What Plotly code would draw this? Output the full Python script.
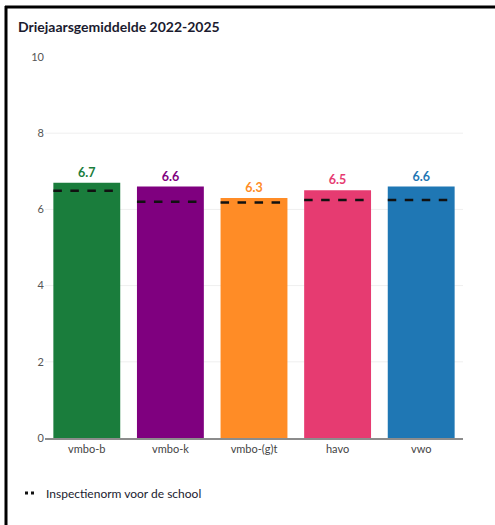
import plotly.graph_objects as go

# Driejaarsgemiddelde per schoolsoort, met de inspectienorm per onderdeel
categories = ["vmbo-b", "vmbo-k", "vmbo-(g)t", "havo", "vwo"]
scores = [6.7, 6.6, 6.3, 6.5, 6.6]
norms = [6.49, 6.20, 6.18, 6.25, 6.25]
colors = ["#1a7d3c", "#7f007f", "#ff8c26", "#e63b71", "#1f77b4"]
score_labels = ["6.7", "6.6", "6.3", "6.5", "6.6"]
y_ticks = [0, 2, 4, 6, 8, 10]
grid_levels = [2, 4, 6, 8]

title_text = "Driejaarsgemiddelde 2022-2025"
norm_name = "Inspectienorm voor de school"

W, H = 495, 525
ML, MR, MT, MB = 45, 32, 57, 87
FONT = "Lato, Open Sans, sans-serif"

BAR_WIDTH = 0.8
idx = list(range(len(categories)))


def px_to_paper_x(px):
    return (px - ML) / (W - ML - MR)


def px_to_paper_y(py):
    return (H - MB - py) / (H - MT - MB)


fig = go.Figure()

fig.add_trace(go.Bar(
    x=idx,
    y=scores,
    width=BAR_WIDTH,
    marker=dict(color=colors, line=dict(width=0)),
    text=score_labels,
    textposition="outside",
    textfont=dict(family=FONT, size=12.5, color=colors, weight="bold"),
    cliponaxis=False,
    showlegend=False,
    hoverinfo="x+y",
))

# Norm lines: one dashed segment across each bar
norm_x, norm_y = [], []
for i, n in zip(idx, norms):
    norm_x += [i - BAR_WIDTH / 2, i + BAR_WIDTH / 2, None]
    norm_y += [n, n, None]

fig.add_trace(go.Scatter(
    x=norm_x,
    y=norm_y,
    mode="lines",
    line=dict(color="#111111", width=2.5, dash="8.5px,8.5px"),
    name=norm_name,
    legendgroup="norm",
    showlegend=False,
    hoverinfo="skip",
))

# Legend entry for the norm, drawn as two small dots
fig.add_trace(go.Scatter(
    x=[None],
    y=[None],
    mode="lines",
    line=dict(color="#111111", width=3, dash="0px,14px,3px,3px,3px,40px"),
    name=norm_name,
    legendgroup="norm",
    showlegend=True,
))

shapes = []
for g in grid_levels:
    shapes.append(dict(
        type="line", xref="paper", yref="y", x0=0, x1=1, y0=g, y1=g,
        line=dict(color="#efefef", width=1), layer="below",
    ))

# Frame on the left and top edge of the card
shapes.append(dict(
    type="line", xref="paper", yref="paper",
    x0=px_to_paper_x(6), x1=px_to_paper_x(6),
    y0=px_to_paper_y(6), y1=px_to_paper_y(530),
    line=dict(color="#000000", width=3),
))
shapes.append(dict(
    type="line", xref="paper", yref="paper",
    x0=px_to_paper_x(5), x1=px_to_paper_x(500),
    y0=px_to_paper_y(7), y1=px_to_paper_y(7),
    line=dict(color="#000000", width=3),
))

fig.update_layout(
    width=W,
    height=H,
    margin=dict(l=ML, r=MR, t=MT, b=MB, autoexpand=False),
    paper_bgcolor="white",
    plot_bgcolor="white",
    font=dict(family=FONT, size=11, color="#444444"),
    title=dict(
        text=title_text,
        x=18 / W, xref="container", xanchor="left",
        y=1 - 27 / H, yref="container", yanchor="middle",
        font=dict(family=FONT, size=14, color="#1b1b2f", weight="bold"),
    ),
    xaxis=dict(
        range=[-0.5, len(categories) - 0.5],
        tickvals=idx,
        ticktext=categories,
        showgrid=False,
        zeroline=False,
        showline=True,
        linecolor="#8c8c8c",
        linewidth=1.5,
        ticks="",
        tickfont=dict(family=FONT, size=11, color="#444444"),
        automargin=False,
        fixedrange=True,
    ),
    yaxis=dict(
        range=[0, 10],
        tickvals=y_ticks,
        showgrid=False,
        zeroline=False,
        showline=False,
        ticks="",
        tickfont=dict(family=FONT, size=11, color="#555555"),
        automargin=False,
        fixedrange=True,
    ),
    legend=dict(
        orientation="h",
        xref="container", x=6 / W, xanchor="left",
        yref="container", y=1 - 493 / H, yanchor="middle",
        font=dict(family=FONT, size=12, color="#1b1b2f"),
        bgcolor="rgba(0,0,0,0)",
    ),
    shapes=shapes,
    bargap=0.2,
)

fig.write_html("out.html")
